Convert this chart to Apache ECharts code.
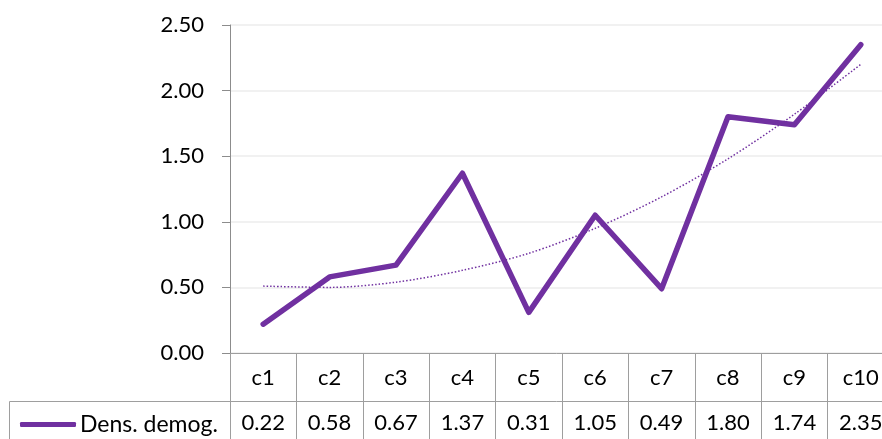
<!DOCTYPE html>
<html>
<head>
<meta charset="utf-8">
<script src="https://cdn.jsdelivr.net/npm/echarts@6/dist/echarts.min.js"></script>
<style>
  html, body { margin: 0; padding: 0; background: #fff; }
  #chart { width: 882px; height: 439px; }
</style>
</head>
<body>
<div id="chart"></div>
<script>
// categories and values
const categories = ['c1', 'c2', 'c3', 'c4', 'c5', 'c6', 'c7', 'c8', 'c9', 'c10']
const densValues = [0.22, 0.58, 0.67, 1.37, 0.31, 1.05, 0.49, 1.80, 1.74, 2.35]
// dotted trend line, read at each category
const trendValues = [0.51, 0.50, 0.54, 0.63, 0.76, 0.95, 1.19, 1.48, 1.82, 2.20]
const seriesName = 'Dens. demog.'

const purple = '#7030A0'
const tableLine = '#9E9E9E'
const font = 'Lato'

const chart = echarts.init(document.getElementById('chart'))

const option = {
  animation: false,
  backgroundColor: '#fff',
  textStyle: { fontFamily: font },
  grid: {
    left: 230,
    width: 664,
    top: 25,
    bottom: 86,
    containLabel: false,
    outerBoundsMode: 'none'
  },
  legend: {
    data: [{ name: seriesName, icon: 'roundRect' }],
    left: 15,
    top: 408,
    itemWidth: 56,
    itemHeight: 5,
    itemGap: 4,
    textStyle: { fontFamily: font, fontSize: 23, color: '#000', padding: [0, 0, 0, -1] }
  },
  yAxis: {
    type: 'value',
    min: 0,
    max: 2.5,
    interval: 0.5,
    axisLine: { show: true, lineStyle: { color: '#8C8C8C', width: 1 } },
    axisTick: { show: true, length: 8, lineStyle: { color: '#8C8C8C' } },
    axisLabel: {
      margin: 26,
      fontFamily: font,
      fontSize: 22,
      color: '#000',
      formatter: (v) => v.toFixed(2)
    },
    splitLine: { show: true, lineStyle: { color: '#EDEDED', width: 1.5 } }
  },
  xAxis: [
    {
      type: 'category',
      data: categories,
      position: 'bottom',
      axisLine: { show: true, lineStyle: { color: tableLine, width: 1 } },
      axisTick: { show: true, interval: 0, length: 95, lineStyle: { color: tableLine, width: 1 } },
      axisLabel: {
        interval: 0,
        margin: 25,
        verticalAlign: 'middle',
        fontFamily: font,
        fontSize: 22,
        color: '#000'
      },
      splitLine: { show: false }
    },
    {
      type: 'category',
      data: densValues.map(v => v.toFixed(2)),
      position: 'bottom',
      offset: 48,
      axisLine: { show: true, lineStyle: { color: tableLine, width: 1 } },
      axisTick: { show: false },
      axisLabel: {
        interval: 0,
        margin: 22,
        verticalAlign: 'middle',
        fontFamily: font,
        fontSize: 22,
        color: '#000'
      },
      splitLine: { show: false }
    }
  ],
  graphic: [
    {
      type: 'polyline',
      shape: { points: [[9.5, 445], [9.5, 401.5], [230, 401.5]] },
      style: { stroke: tableLine, lineWidth: 1, fill: null },
      silent: true
    }
  ],
  series: [
    {
      name: seriesName,
      type: 'line',
      xAxisIndex: 0,
      data: densValues,
      symbol: 'none',
      lineStyle: { color: purple, width: 5.5, cap: 'round', join: 'round' },
      itemStyle: { color: purple }
    },
    {
      name: 'trend',
      type: 'line',
      xAxisIndex: 0,
      data: trendValues,
      symbol: 'none',
      smooth: 0.3,
      lineStyle: { color: purple, width: 1.5, type: [1.5, 2] },
      itemStyle: { color: purple },
      z: 3
    }
  ]
}

chart.setOption(option)
</script>
</body>
</html>
